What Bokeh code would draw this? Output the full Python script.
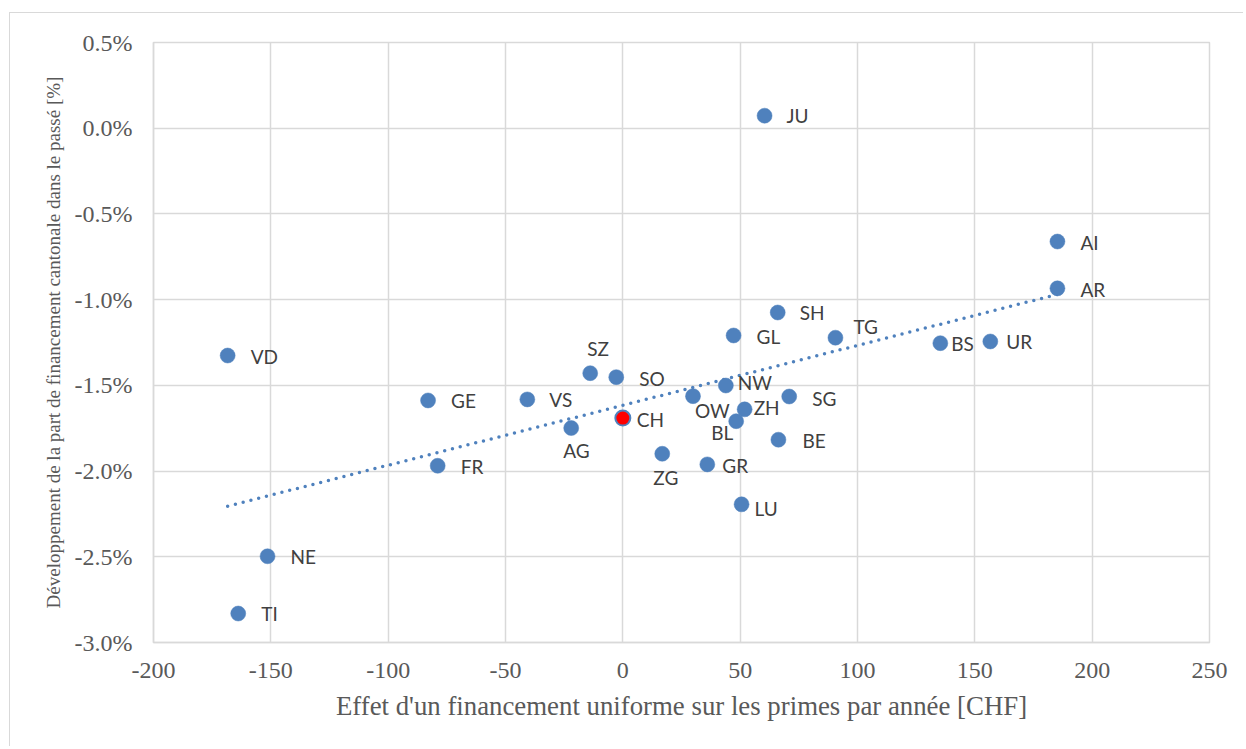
import numpy as np
from bokeh.plotting import figure
from bokeh.models import ColumnDataSource, FixedTicker, PrintfTickFormatter, Range1d
from bokeh.core.properties import value
from bokeh.embed import file_html
from bokeh.resources import INLINE

# ---- data ----
cantons = ["JU", "AI", "AR", "SH", "GL", "TG", "BS", "UR", "VD", "SZ", "SO", "NW", "GE", "VS",
           "OW", "SG", "ZH", "CH", "BL", "AG", "BE", "ZG", "GR", "FR", "LU", "NE", "TI"]
effect_chf = [60.4, 185.2, 185.2, 66.0, 47.2, 90.6, 135.3, 156.6, -168.4, -13.9, -2.8, 43.9, -83.0, -40.7,
              29.9, 70.9, 51.9, 0.0, 48.3, -22.0, 66.3, 16.8, 36.0, -78.9, 50.6, -151.4, -163.9]
dev_pct = [0.073, -0.661, -0.934, -1.075, -1.209, -1.222, -1.254, -1.244, -1.326, -1.429, -1.452, -1.501, -1.588, -1.582,
           -1.563, -1.565, -1.640, -1.691, -1.709, -1.749, -1.817, -1.899, -1.961, -1.969, -2.194, -2.497, -2.831]
x_ticks = [-200, -150, -100, -50, 0, 50, 100, 150, 200, 250]
y_ticks = [-3.0, -2.5, -2.0, -1.5, -1.0, -0.5, 0.0, 0.5]

# label placement (screen px offsets, styling only)
lab_dx = [22, 23, 23, 22, 23, 18, 11, 16, 23, -3, 23, 12, 23, 22,
          2, 23, 9, 14, -25, -8, 24, -9, 15, 23, 13, 23, 23]
lab_dy = [0, 1, 1, 0, 1, -11, 0, 0, 1, -25, 1, -3, 0, 0,
          14, 2, -2, 1, 11, 22, 1, 24, 1, 1, 4, 0, 0]

BLUE = "#4F81BD"
GRID = "#d9d9d9"
TXT = "#595959"

p = figure(width=1234, height=734, output_backend="svg", toolbar_location=None,
           x_range=Range1d(-200, 250), y_range=Range1d(-3.0, 0.5),
           min_border_left=143, min_border_right=35, min_border_top=29, min_border_bottom=105)
p.styles = {"border-left": "1px solid #d9d9d9", "border-top": "1px solid #d9d9d9",
            "margin-top": "12px", "margin-left": "9px"}
p.background_fill_color = "white"
p.border_fill_color = "white"
p.outline_line_color = GRID
p.outline_line_width = 1.5

for ax in (p.xaxis[0], p.yaxis[0]):
    ax.axis_line_color = GRID
    ax.axis_line_width = 1.5
    ax.major_tick_line_color = None
    ax.minor_tick_line_color = None
    ax.major_label_text_font = "Liberation Serif"
    ax.major_label_text_font_size = "24px"
    ax.major_label_text_color = TXT
    ax.axis_label_text_font = "Liberation Serif"
    ax.axis_label_text_font_style = "normal"
    ax.axis_label_text_color = TXT

p.xaxis.ticker = FixedTicker(ticks=x_ticks)
p.yaxis.ticker = FixedTicker(ticks=y_ticks)
p.xaxis.formatter = PrintfTickFormatter(format="%d")
p.yaxis.formatter = PrintfTickFormatter(format="%.1f%%")
p.xaxis.major_label_standoff = 14
p.yaxis.major_label_standoff = 15
p.xaxis.axis_label = "Effet d'un financement uniforme sur les primes par année [CHF]"
p.xaxis.axis_label_text_font_size = "26.8px"
p.xaxis.axis_label_standoff = 10
p.yaxis.axis_label = "Développement de la part de financement cantonale dans le passé [%]"
p.yaxis.axis_label_text_font_size = "19px"
p.yaxis.axis_label_standoff = 8

p.xgrid.ticker = FixedTicker(ticks=x_ticks)
p.ygrid.ticker = FixedTicker(ticks=y_ticks)
p.xgrid.grid_line_color = GRID
p.ygrid.grid_line_color = GRID
p.xgrid.grid_line_width = 1.5
p.ygrid.grid_line_width = 1.5

# linear trend line (least squares over data)
xa = np.array(effect_chf)
ya = np.array(dev_pct)
slope, intercept = np.polyfit(xa, ya, 1)
tx = [xa.min(), xa.max()]
ty = [slope * v + intercept for v in tx]
p.line(tx, ty, line_color=BLUE, line_width=3.5, line_dash="0 8", line_cap="round")

src = ColumnDataSource(dict(x=effect_chf, y=dev_pct, name=cantons, dx=lab_dx, dy=lab_dy,
                            fill=["red" if c == "CH" else BLUE for c in cantons],
                            lw=[2 if c == "CH" else 0.5 for c in cantons]))
p.scatter("x", "y", source=src, size=15, fill_color="fill", line_color=BLUE, line_width="lw")
p.text("x", "y", text="name", source=src, x_offset="dx", y_offset="dy",
       text_font=value("Lato"), text_font_size="19px", text_color="#404040",
       text_baseline="middle", text_align="left")

open("out.html", "w").write(file_html(p, INLINE))
